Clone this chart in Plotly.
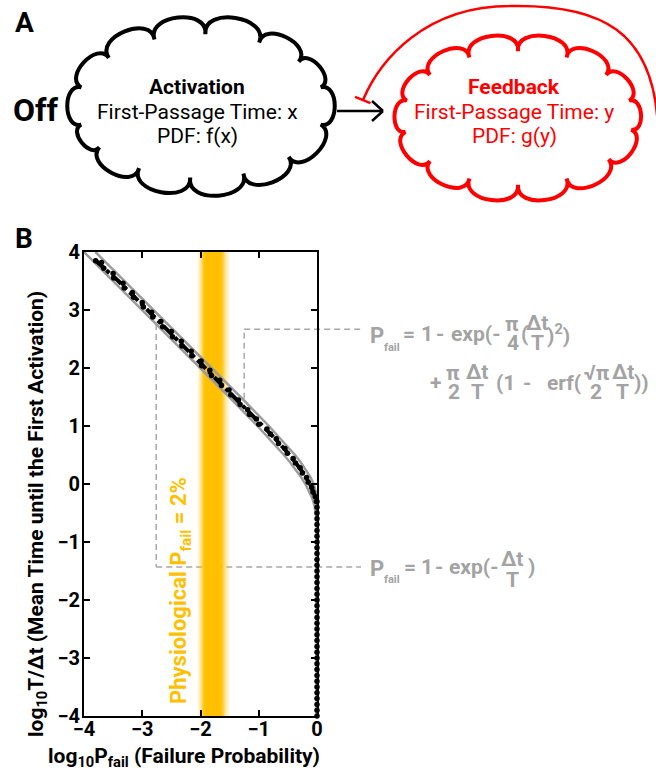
import math
import plotly.graph_objects as go

W, H = 656, 773
FONT = "Roboto"
GRAY_TXT = "#A3A3A3"
GRAY_LINE = "#9C9C9C"
ORANGE = "#FFC000"
RED = "#FF0000"

# ---------------- data ----------------
x_tick_vals = [-4, -3, -2, -1, 0]
y_tick_vals = [-4, -3, -2, -1, 0, 1, 2, 3, 4]

# theory curves (gray)
theory_y = [4, 3.5, 3, 2.5, 2, 1.5, 1, 0.75, 0.625, 0.5, 0.375, 0.25, 0.125, 0,
            -0.125, -0.25, -0.375, -0.5, -0.625, -0.75, -0.875, -1, -4]
exact_x = [-3.804, -3.304, -2.804, -2.305, -1.806, -1.311, -0.826, -0.594, -0.483,
           -0.378, -0.279, -0.191, -0.116, -0.058, -0.022, -0.005, -0.0005, 0, 0, 0, 0, 0, 0]
simple_x = [-4.0, -3.5, -3.0, -2.501, -2.002, -1.507, -1.022, -0.788, -0.675,
            -0.567, -0.463, -0.366, -0.278, -0.199, -0.133, -0.080, -0.043, -0.019,
            -0.006, -0.002, -0.0002, 0, 0]

# simulation points (black)
sim_y = [3.85, 3.82, 3.72, 3.63, 3.55, 3.46, 3.38, 3.30, 3.22, 3.13, 3.05, 2.96, 2.88,
         2.80, 2.71, 2.63, 2.54, 2.46, 2.38, 2.29, 2.21, 2.12, 2.04, 1.96, 1.87, 1.79,
         1.70, 1.62, 1.54, 1.45, 1.37, 1.28, 1.20, 1.12, 1.03, 0.95, 0.86, 0.78, 0.70,
         0.61, 0.53, 0.44, 0.36, 0.28, 0.19, 0.11, 0.03, -0.06, -0.14, -0.22, -0.30]
sim_x = [-3.80, -3.70, -3.66, -3.50, -3.49, -3.33, -3.31, -3.17, -3.15, -3.00, -2.98,
         -2.84, -2.82, -2.68, -2.65, -2.50, -2.48, -2.33, -2.32, -2.16, -2.15, -1.99,
         -1.98, -1.84, -1.81, -1.67, -1.64, -1.51, -1.48, -1.35, -1.32, -1.19, -1.16,
         -1.04, -1.00, -0.86, -0.80, -0.70, -0.66, -0.55, -0.51, -0.41, -0.37, -0.29,
         -0.25, -0.18, -0.15, -0.09, -0.07, -0.03, -0.01]
mid_y = [3.87, 3.5, 3.0, 2.5, 2.0, 1.5, 1.0, 0.75, 0.5, 0.25, 0.0, -0.25]
mid_x = [-3.82, -3.41, -2.91, -2.41, -1.91, -1.41, -0.93, -0.69, -0.47, -0.28, -0.12, -0.02]
vert_y = [-0.3, -0.4, -0.5, -0.6, -0.7, -0.8, -0.9, -1.0, -1.1, -1.2, -1.3, -1.4, -1.5,
          -1.6, -1.7, -1.8, -1.9, -2.0, -2.1, -2.2, -2.3, -2.4, -2.5, -2.6, -2.7, -2.8,
          -2.9, -3.0, -3.1, -3.2, -3.3, -3.4, -3.5, -3.6, -3.7, -3.8, -3.9, -4.0]
vert_x = [0] * len(vert_y)

# physiological band (orange)
band_x = [-2.08, -2.04, -2.00, -1.96, -1.92, -1.88, -1.84, -1.80, -1.76, -1.72, -1.68,
          -1.64, -1.60, -1.56, -1.52, -1.48]
band_level = [0, 0.1, 0.45, 0.85, 1, 1, 1, 1, 1, 1, 1, 0.9, 0.6, 0.3, 0.1, 0]

# ---------------- geometry helpers ----------------
PL, PR, PT, PB = 84, 317, 252, 716
XR = [-4, 0]
YR = [-4, 4]


def P(x, y):
    return x / W, 1 - y / H


def dx2px(v):
    return PL + (v - XR[0]) / (XR[1] - XR[0]) * (PR - PL)


def dy2px(v):
    return PB - (v - YR[0]) / (YR[1] - YR[0]) * (PB - PT)


shapes = []
annotations = []


def seg(x0, y0, x1, y1, color, width, dash="solid", layer="above"):
    a, b = P(x0, y0)
    c, d = P(x1, y1)
    shapes.append(dict(type="line", xref="paper", yref="paper", x0=a, y0=b, x1=c, y1=d,
                       line=dict(color=color, width=width, dash=dash), layer=layer))


def path(pts_cmd, color, width, fill=None, layer="above"):
    shapes.append(dict(type="path", xref="paper", yref="paper", path=pts_cmd,
                       line=dict(color=color, width=width),
                       fillcolor=fill if fill else "rgba(0,0,0,0)", layer=layer))


def fmt(x, y):
    a, b = P(x, y)
    return f"{a:.5f},{b:.5f}"


def cloud_path(cx, cy, rx, ry, angles, k=0.5, f=0.12):
    pts = [(cx + rx * math.cos(math.radians(a)), cy + ry * math.sin(math.radians(a)))
           for a in angles]
    d = "M" + fmt(*pts[0])
    n = len(pts)
    for i in range(n):
        ax, ay = pts[i]
        bx, by = pts[(i + 1) % n]
        ddx, ddy = bx - ax, by - ay
        L = math.hypot(ddx, ddy)
        ux, uy = ddx / L, ddy / L
        nx, ny = uy, -ux
        mx, my = (ax + bx) / 2 - cx, (ay + by) / 2 - cy
        if nx * mx + ny * my < 0:
            nx, ny = -nx, -ny
        c1 = (ax + nx * k * L - ux * f * L, ay + ny * k * L - uy * f * L)
        c2 = (bx + nx * k * L + ux * f * L, by + ny * k * L + uy * f * L)
        d += " C" + fmt(*c1) + " " + fmt(*c2) + " " + fmt(bx, by)
    return d + " Z"


def txt(x, y, s, size=21, color=GRAY_TXT, anchor="left", weight="bold", angle=0):
    a, b = P(x, y)
    annotations.append(dict(x=a, y=b, xref="paper", yref="paper", text=s, showarrow=False,
                            xanchor=anchor, yanchor="middle", textangle=angle,
                            font=dict(family=FONT, size=size, color=color, weight=weight)))


# ---------------- panel A ----------------
txt(24, 22, "A", size=28, color="black", anchor="center")
txt(36, 110, "Off", size=32, color="black", anchor="center")

# feedback arc with inhibition bar
path("M" + fmt(363, 100) + " C" + fmt(380, 60) + " " + fmt(425, 6) + " " + fmt(510, 6)
     + " C" + fmt(600, 4) + " " + fmt(655, 30) + " " + fmt(658, 130), RED, 2.5)
seg(355, 96.8, 370.5, 103.2, RED, 2.5)

# clouds
path(cloud_path(201, 106, 124, 72,
                [15, 45, 70, 95, 120, 145, 165, 195, 222, 248, 272, 298, 322, 345]),
     "black", 4, fill="white")
path(cloud_path(518, 118, 115, 67,
                [10, 38, 65, 90, 115, 140, 168, 195, 220, 245, 270, 295, 320, 345]),
     RED, 4, fill="white")

# arrow activation -> feedback
seg(337, 111, 383, 111, "black", 2.5)
seg(372, 101, 383, 111, "black", 2.5)
seg(372, 121, 383, 111, "black", 2.5)

txt(197, 87, "Activation", size=21, color="black", anchor="center")
txt(197, 112, "First-Passage Time: x", size=21, color="black", anchor="center", weight="normal")
txt(197, 136, "PDF: f(x)", size=21, color="black", anchor="center", weight="normal")
txt(514, 87, "Feedback", size=21, color=RED, anchor="center")
txt(514, 112, "First-Passage Time: y", size=21, color=RED, anchor="center", weight="normal")
txt(514, 136, "PDF: g(y)", size=21, color=RED, anchor="center", weight="normal")

# ---------------- panel B ----------------
txt(24, 238, "B", size=28, color="black", anchor="center")

# leader lines (below the band)
LX1, LY1a, LY1b = -1.25, 1.47, 2.67
LX2, LY2a, LY2b = -2.76, 2.76, -1.43
seg(dx2px(LX1), dy2px(LY1a), dx2px(LX1), dy2px(LY1b), "#A8A8A8", 1.5, dash="6px,4px", layer="below")
seg(dx2px(LX1), dy2px(LY1b), 361, dy2px(LY1b), "#A8A8A8", 1.5, dash="6px,4px", layer="below")
seg(dx2px(LX2), dy2px(LY2a), dx2px(LX2), dy2px(LY2b), "#A8A8A8", 1.5, dash="6px,4px", layer="below")
seg(dx2px(LX2), dy2px(LY2b), 361, dy2px(LY2b), "#A8A8A8", 1.5, dash="6px,4px", layer="below")

# formula 1, line 1
txt(368, 335, "P", size=22)
txt(382, 347, "fail", size=11)
txt(409, 334, "=", anchor="center")
txt(427, 334, "1", anchor="center")
txt(440, 334, "-", anchor="center")
txt(449, 334, "exp(-")
txt(512, 324, "π", anchor="center")
txt(513, 343, "4", anchor="center")
txt(524, 334, "(", anchor="center")
txt(537, 323, "Δt", anchor="center")
txt(537, 343, "T", anchor="center")
txt(545, 334, ")<sup>2</sup>)")
# formula 1, line 2
txt(435, 383, "+", anchor="center")
txt(453, 373, "π", anchor="center")
txt(454, 392, "2", anchor="center")
txt(477, 372, "Δt", anchor="center")
txt(477, 392, "T", anchor="center")
txt(494, 383, "(1")
txt(527, 383, "-", anchor="center")
txt(545, 383, "erf(")
txt(597, 373, "√π", anchor="center")
txt(596, 392, "2", anchor="center")
txt(623, 372, "Δt", anchor="center")
txt(622, 392, "T", anchor="center")
txt(632, 383, "))")
# formula 2
txt(368, 568, "P", size=22)
txt(382, 579, "fail", size=11)
txt(410, 567, "=", anchor="center")
txt(427, 567, "1", anchor="center")
txt(439, 567, "-", anchor="center")
txt(447, 567, "exp(-")
txt(512, 559, "Δt", anchor="center")
txt(512, 580, "T", anchor="center")
txt(526, 567, ")")

# orange label
txt(180, 591, "Physiological P<sub>fail</sub> = 2%", size=22, color=ORANGE, anchor="center", angle=-90)

# axis titles
txt(37, 514, "log<sub>10</sub>T/Δt (Mean Time until the First Activation)", size=21,
    color="black", anchor="center", angle=-90)
txt(184, 757, "log<sub>10</sub>P<sub>fail</sub> (Failure Probability)", size=21,
    color="black", anchor="center")

fig = go.Figure()
fig.add_trace(go.Heatmap(x=band_x, y=[-4, 4], z=[band_level, band_level], zsmooth="best",
                         colorscale=[[0, "rgba(255,192,0,0)"], [1, "rgba(255,192,0,1)"]],
                         zmin=0, zmax=1, showscale=False, hoverinfo="skip"))
fig.add_trace(go.Scatter(x=simple_x, y=theory_y, mode="lines",
                         line=dict(color=GRAY_LINE, width=2.5), hoverinfo="skip"))
fig.add_trace(go.Scatter(x=exact_x, y=theory_y, mode="lines",
                         line=dict(color=GRAY_LINE, width=2.5), hoverinfo="skip"))
fig.add_trace(go.Scatter(x=mid_x, y=mid_y, mode="lines",
                         line=dict(color="black", width=4, dash="dashdot"), hoverinfo="skip"))
fig.add_trace(go.Scatter(x=sim_x, y=sim_y, mode="markers",
                         marker=dict(color="black", size=5.5), hoverinfo="skip"))
fig.add_trace(go.Scatter(x=vert_x, y=vert_y, mode="markers", cliponaxis=False,
                         marker=dict(color="black", size=5.5), hoverinfo="skip"))

axis_common = dict(showgrid=False, zeroline=False, ticks="inside", ticklen=6, tickwidth=1.5,
                   tickcolor="black", showline=True, linecolor="black", linewidth=2,
                   mirror="ticks", automargin=False,
                   tickfont=dict(family=FONT, size=20, color="black", weight="bold"))
fig.update_layout(
    width=W, height=H, margin=dict(l=0, r=0, t=0, b=0, pad=0, autoexpand=False),
    paper_bgcolor="white", plot_bgcolor="rgba(0,0,0,0)", showlegend=False,
    xaxis=dict(range=XR, domain=[PL / W, PR / W], tickvals=x_tick_vals,
               ticklabelstandoff=-6, **axis_common),
    yaxis=dict(range=YR, domain=[1 - PB / H, 1 - PT / H], tickvals=y_tick_vals,
               ticklabelstandoff=-2, **axis_common),
    shapes=shapes, annotations=annotations,
)
fig.write_html("out.html", config={"displayModeBar": False},
               post_script="document.body.style.margin='0';document.body.style.padding='0';")
